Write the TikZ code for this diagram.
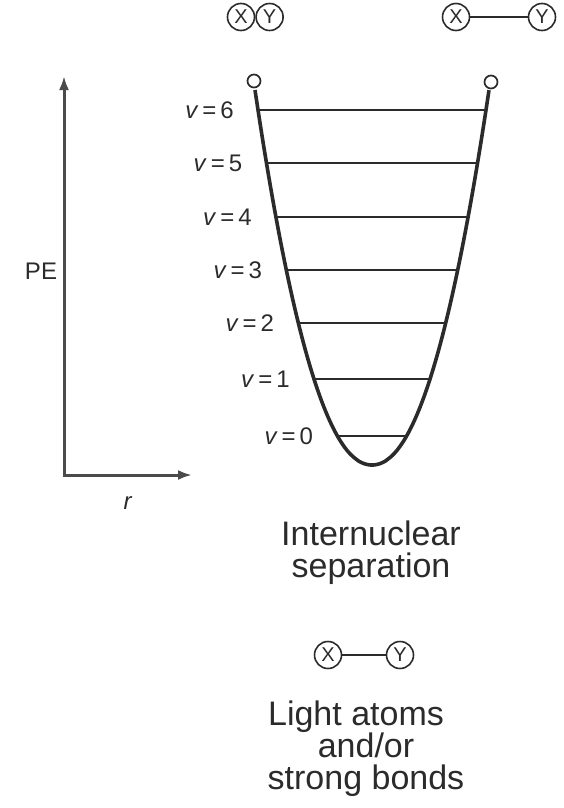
\documentclass[tikz,border=0pt]{standalone}
\usepackage{fontspec}
\setmainfont{Liberation Sans}
\usetikzlibrary{arrows.meta,positioning,calc}
\definecolor{ink}{HTML}{2B2B2B}

\begin{document}
\begin{tikzpicture}[x=1pt,y=-1pt,>={Latex[length=14pt,width=10pt]},font=\fontsize{24}{28}\selectfont,color=ink]
\tikzset{atom/.style={draw=ink, circle, minimum size=27pt, inner sep=0pt, line width=1.6pt, font=\fontsize{20}{20}\selectfont}, tipdot/.style={draw=ink, fill=white, circle, minimum size=13pt, inner sep=0pt, line width=1.7pt}, bond/.style={line width=1.6pt}, lvl/.style={line width=1.4pt}, well/.style={line width=3.6pt}, axis/.style={line width=3pt, draw=ink!85}, lab/.style={anchor=east, inner sep=0pt}, big/.style={align=center, font=\fontsize{34}{32}\selectfont}}
\useasboundingbox (0,0) rectangle (563,808);
% axes
\coordinate (o) at (64,475); \coordinate (ytop) at (64,76); \coordinate (xend) at (192,475);
\draw[axis,<->] (ytop) -- (o) -- (xend);
\node (pe) at (41,271) {PE};
\node (r) at (128,503) {\textit{r}};
% potential well and levels
\draw[well] plot[domain=-1:1, samples=80, smooth] ({372+117*\x},{465-375*abs(\x)^2.1});
\foreach \v/\yy in {0/436,1/379,2/323,3/270,4/217,5/163,6/110} {
  \pgfmathsetmacro\hw{117*((465-\yy)/375)^0.476}
  \draw[lvl] ({372-\hw},\yy) -- ({372+\hw},\yy);
  \node[lab] (v\v) at ({372-\hw-24},\yy) {\textit{v}\hspace{4pt}=\hspace{4pt}\v};
}
\node[tipdot] (tl) at (254,81) {};
\node[tipdot] (tr) at (491,82) {};
% atoms
\node[atom] (xa) at (241,17) {X}; \node[atom, right=0pt of xa] (ya) {Y};
\node[atom] (xb) at (456,17) {X}; \node[atom] (yb) at (542,17) {Y};
\draw[bond] (xb) -- (yb);
\node[big] (sep) at (371,553) {Internuclear\\separation};
\node[atom] (xc) at (328,655) {X}; \node[atom] (yc) at (400,655) {Y};
\draw[bond] (xc) -- (yc);
\node[big] (light) at (366,749) {Light atoms\hspace*{20pt}\\and/or\\strong bonds};
\end{tikzpicture}
\end{document}
